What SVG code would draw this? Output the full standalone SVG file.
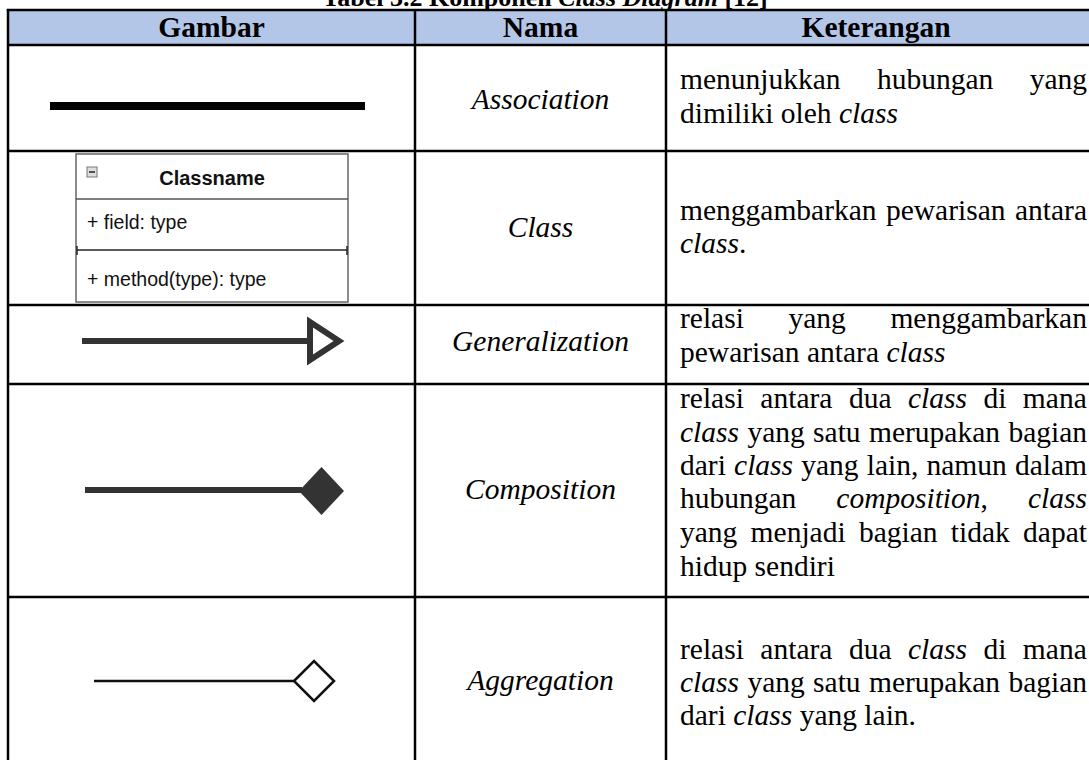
<svg xmlns="http://www.w3.org/2000/svg" width="1089" height="760" viewBox="0 0 1089 760">
  <style>
    .serif { font-family: "Liberation Serif", "Times New Roman", serif; fill: #000; }
    .title { font-size: 26px; font-weight: bold; }
    .head { font-size: 29.5px; font-weight: bold; }
    .name { font-size: 29.5px; font-style: italic; }
    .desc { font-size: 29.5px; }
    .i { font-style: italic; }
    .sans { font-family: "Liberation Sans", Arial, sans-serif; fill: #111; }
    .grid { stroke: #000; stroke-width: 2.5; fill: none; }
  </style>

  <rect width="1089" height="760" fill="#fff"/>

  <!-- caption (top clipped by the page edge) -->
  <text class="serif title" x="545" y="6" text-anchor="middle">Tabel 3.2 Komponen <tspan font-style="italic">Class Diagram</tspan> [12]</text>

  <!-- table frame -->
  <g id="table-grid">
    <rect x="8" y="10" width="1090" height="35" fill="#B4C6E7"/>
    <line class="grid" x1="6.8" y1="10" x2="1089" y2="10" stroke-width="2.8"/>
    <line class="grid" x1="8" y1="45" x2="1089" y2="45"/>
    <line class="grid" x1="8" y1="151" x2="1089" y2="151"/>
    <line class="grid" x1="8" y1="305" x2="1089" y2="305"/>
    <line class="grid" x1="8" y1="384" x2="1089" y2="384"/>
    <line class="grid" x1="8" y1="597" x2="1089" y2="597"/>
    <line class="grid" x1="8" y1="9" x2="8" y2="760"/>
    <line class="grid" x1="415" y1="10" x2="415" y2="760" stroke-width="2"/>
    <line class="grid" x1="666" y1="10" x2="666" y2="760" stroke-width="2"/>
  </g>

  <!-- header row -->
  <g id="header">
    <text class="serif head" x="211.5" y="37" text-anchor="middle">Gambar</text>
    <text class="serif head" x="540.5" y="37" text-anchor="middle">Nama</text>
    <text class="serif head" x="876" y="37" text-anchor="middle">Keterangan</text>
  </g>

  <!-- relation symbols -->
  <g id="connectors">
    <!-- association -->
    <rect x="50" y="102" width="315" height="8" fill="#000"/>
    <!-- generalization -->
    <line x1="82" y1="341" x2="309" y2="341" stroke="#333" stroke-width="6"/>
    <polygon points="310,322 339,341 310,360" fill="#fff" stroke="#333" stroke-width="6" stroke-linejoin="miter"/>
    <!-- composition -->
    <line x1="85" y1="490" x2="302" y2="490" stroke="#333" stroke-width="6"/>
    <polygon points="299,491 321.5,467 344,491 321.5,515" fill="#333"/>
    <!-- aggregation -->
    <line x1="94" y1="681" x2="295" y2="681" stroke="#111" stroke-width="2.5"/>
    <polygon points="294,681 314,661 334,681 314,701" fill="#fff" stroke="#111" stroke-width="2.5"/>
  </g>

  <!-- class box symbol -->
  <g id="class-box">
    <rect x="76" y="154" width="272" height="148" fill="#fff" stroke="#666" stroke-width="1.5"/>
    <line x1="76" y1="199" x2="348" y2="199" stroke="#555" stroke-width="1.5"/>
    <line x1="77" y1="250" x2="347" y2="250" stroke="#222" stroke-width="1.6"/>
    <line x1="77" y1="246" x2="77" y2="255" stroke="#222" stroke-width="1.5"/>
    <line x1="347" y1="246" x2="347" y2="255" stroke="#222" stroke-width="1.5"/>
    <rect x="87" y="167" width="10" height="10" fill="#ddd" stroke="#777" stroke-width="1"/>
    <line x1="89" y1="172" x2="95" y2="172" stroke="#222" stroke-width="1.5"/>
    <text class="sans" x="212" y="185" font-size="20" font-weight="bold" text-anchor="middle">Classname</text>
    <text class="sans" x="87" y="229" font-size="19.5">+ field: type</text>
    <text class="sans" x="87" y="286" font-size="19.5">+ method(type): type</text>
  </g>

  <!-- name column -->
  <g id="names">
    <text class="serif name" x="540.5" y="109" text-anchor="middle">Association</text>
    <text class="serif name" x="540.5" y="237" text-anchor="middle">Class</text>
    <text class="serif name" x="540.5" y="351" text-anchor="middle">Generalization</text>
    <text class="serif name" x="540.5" y="499" text-anchor="middle">Composition</text>
    <text class="serif name" x="540.5" y="690" text-anchor="middle">Aggregation</text>
  </g>

  <!-- description column (justified lines use word-spacing) -->
  <g id="desc-association">
    <text class="serif desc" x="680" y="89" style="word-spacing:29px">menunjukkan hubungan yang</text>
    <text class="serif desc" x="680" y="123">dimiliki oleh <tspan class="i">class</tspan></text>
  </g>
  <g id="desc-class">
    <text class="serif desc" x="680" y="220" style="word-spacing:2px">menggambarkan pewarisan antara</text>
    <text class="serif desc" x="680" y="253"><tspan class="i">class</tspan>.</text>
  </g>
  <g id="desc-generalization">
    <text class="serif desc" x="680" y="328" style="word-spacing:37.2px">relasi yang menggambarkan</text>
    <text class="serif desc" x="680" y="362">pewarisan antara <tspan class="i">class</tspan></text>
  </g>
  <g id="desc-composition">
    <text class="serif desc" x="680" y="408" style="word-spacing:9.1px">relasi antara dua <tspan class="i">class</tspan> di mana</text>
    <text class="serif desc" x="680" y="442" style="word-spacing:1px"><tspan class="i">class</tspan> yang satu merupakan bagian</text>
    <text class="serif desc" x="680" y="475" style="word-spacing:0.8px">dari <tspan class="i">class</tspan> yang lain, namun dalam</text>
    <text class="serif desc" x="680" y="508" style="word-spacing:32.6px">hubungan <tspan class="i">composition</tspan>, <tspan class="i">class</tspan></text>
    <text class="serif desc" x="680" y="542" style="word-spacing:5.9px">yang menjadi bagian tidak dapat</text>
    <text class="serif desc" x="680" y="576">hidup sendiri</text>
  </g>
  <g id="desc-aggregation">
    <text class="serif desc" x="680" y="659" style="word-spacing:9.1px">relasi antara dua <tspan class="i">class</tspan> di mana</text>
    <text class="serif desc" x="680" y="692" style="word-spacing:1px"><tspan class="i">class</tspan> yang satu merupakan bagian</text>
    <text class="serif desc" x="680" y="725">dari <tspan class="i">class</tspan> yang lain.</text>
  </g>
</svg>
